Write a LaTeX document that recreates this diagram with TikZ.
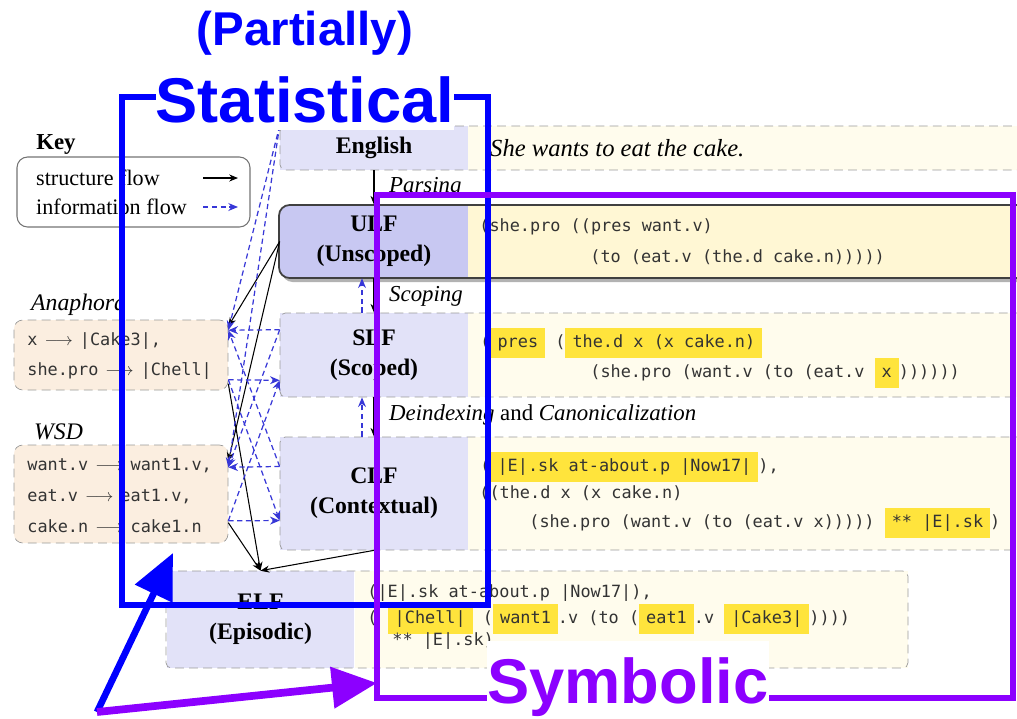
\documentclass[tikz,border=0pt]{standalone}
\usepackage{fontspec}
\setmainfont{Liberation Serif}
\newfontfamily\codefont{DejaVu Sans Mono}
\newfontfamily\annfont{Liberation Sans}
\usetikzlibrary{arrows.meta}

\definecolor{lav}{RGB}{226,226,248}
\definecolor{ulflav}{RGB}{200,200,242}
\definecolor{cream}{RGB}{255,252,237}
\definecolor{ulfcream}{RGB}{255,247,212}
\definecolor{peach}{RGB}{251,238,224}
\definecolor{hly}{RGB}{255,228,60}
\definecolor{infoblue}{RGB}{55,55,215}
\definecolor{annblue}{RGB}{0,0,255}
\definecolor{annpurple}{RGB}{140,0,255}

\newcommand{\hlbox}[1]{{\setlength{\fboxsep}{2.5pt}\colorbox{hly}{\hspace{1.5pt}\strut#1\hspace{1.5pt}}}}

\tikzset{
  lab/.style={fill=lav, font=\fontsize{13.5}{17}\selectfont\bfseries, align=center, minimum width=3.76cm, inner sep=0pt},
  side/.style={draw=black!40, dash pattern=on 5pt off 3pt, fill=peach, rounded corners=5pt, minimum width=4.28cm},
  codeln/.style={anchor=base west, font=\codefont\fontsize{9.6}{12}\selectfont, text=black!80, inner sep=0pt},
  stage/.style={anchor=west, font=\itshape\fontsize{13}{15}\selectfont},
  rowline/.style={draw=black!40, dash pattern=on 5pt off 3pt, rounded corners=3pt},
  flow/.style={-{Stealth[length=5pt,width=4pt]}, line width=0.6pt},
  info/.style={-{Stealth[length=5.5pt,width=4.5pt]}, infoblue, line width=0.7pt, dash pattern=on 3pt off 2pt},
  ann/.style={font=\annfont\bfseries\fontsize{36}{40}\selectfont, fill=white, inner sep=0pt},
}

\begin{document}
\begin{tikzpicture}[x=0.02cm,y=-0.02cm,>=stealth]
   \useasboundingbox (0,0) rectangle (1017,718);
   \clip (0,0) rectangle (1017,718);

   % 凡例
   \node [font=\bfseries\fontsize{13}{15}\selectfont] (key) at (56,144) {Key};
   \node [draw=black!55, line width=0.6pt, rounded corners=6pt, minimum width=4.66cm, minimum height=1.4cm] (keybox) at (133.5,192) {};
   \node [anchor=west, font=\fontsize{12.6}{15}\selectfont] (kst) at (30,178) {structure flow};
   \node [anchor=west, font=\fontsize{12.6}{15}\selectfont] (kin) at (30,207) {information flow};
   \coordinate (ks1) at (203,178); \coordinate (ks2) at (238,178);
   \coordinate (ki1) at (203,207); \coordinate (ki2) at (238,207);
   \draw [flow] (ks1) -- (ks2);
   \draw [info] (ki1) -- (ki2);

   % English
   \fill [cream] (466,126) rectangle (1030,170);
   \node [lab, minimum height=0.88cm] (eng) at (374,148) {English};
   \draw [rowline] (280,126) rectangle (1030,170);
   \node [anchor=west, font=\itshape\fontsize{14}{16}\selectfont] (sent) at (484,148) {She wants to eat the cake.};

   % ULF
   \fill [black!30, rounded corners=6pt] (282,209) rectangle (1030,282);
   \begin{scope}
     \clip [rounded corners=6pt] (279,205) rectangle (1030,278);
     \fill [ulfcream] (279,205) rectangle (1030,278);
     \node [lab, fill=ulflav, minimum height=1.46cm] (ulf) at (374,241.5) {ULF\\(Unscoped)};
   \end{scope}
   \draw [black!75, line width=1pt, rounded corners=6pt] (279,205) rectangle (1030,278);
   \node [codeln] (ulf1) at (479,231) {(she.pro ((pres want.v)};
   \node [codeln] (ulf2) at (590,262) {(to (eat.v (the.d cake.n)))))};

   % SLF
   \fill [cream] (468,313) rectangle (1030,397);
   \node [lab, minimum height=1.68cm] (slf) at (374,355) {SLF\\(Scoped)};
   \draw [rowline] (280,313) rectangle (1030,397);
   \node [codeln] (slf1) at (480,347) {(\hlbox{pres} (\hlbox{the.d x (x cake.n)}};
   \node [codeln] (slf2) at (590,377) {(she.pro (want.v (to (eat.v \hlbox{x}))))))};

   % CLF
   \fill [cream] (468,437) rectangle (1030,550);
   \node [lab, minimum height=2.26cm] (clf) at (374,493.5) {CLF\\(Contextual)};
   \draw [rowline] (280,437) rectangle (1030,550);
   \node [codeln] (clf1) at (480,471) {(\hlbox{|E|.sk at-about.p |Now17|}),};
   \node [codeln] (clf2) at (479,498) {((the.d x (x cake.n)};
   \node [codeln] (clf3) at (529,527) {(she.pro (want.v (to (eat.v x))))) \hlbox{** |E|.sk})};

   % ELF
   \fill [cream] (355,571) rectangle (908,668);
   \node [lab, minimum height=1.94cm] (elf) at (260.5,619.5) {ELF\\(Episodic)};
   \draw [rowline] (166,571) rectangle (908,668);
   \node [codeln] (elf1) at (367,597) {(|E|.sk at-about.p |Now17|),};
   \node [codeln] (elf2) at (367,623) {( \hlbox{|Chell|} (\hlbox{want1}.v (to (\hlbox{eat1}.v \hlbox{|Cake3|}))))};
   \node [codeln] (elf3) at (392,645) {** |E|.sk)};

   % Anaphora / WSD
   \node [anchor=west, font=\itshape\fontsize{13.5}{16}\selectfont] (anat) at (25,305) {Anaphora};
   \node [side, minimum height=1.4cm] (ana) at (121,355) {};
   \node [codeln] (ana1) at (27,345) {x\hspace{4pt}$\longrightarrow$\hspace{4pt}|Cake3|,};
   \node [codeln] (ana2) at (27,375) {she.pro\hspace{4pt}$\longrightarrow$\hspace{4pt}|Chell|};
   \node [anchor=west, font=\itshape\fontsize{13.5}{16}\selectfont] (wsdt) at (28,432) {WSD};
   \node [side, minimum height=1.96cm] (wsd) at (121,494) {};
   \node [codeln] (wsd1) at (27,470) {want.v\hspace{4pt}$\longrightarrow$\hspace{4pt}want1.v,};
   \node [codeln] (wsd2) at (27,501) {eat.v\hspace{4pt}$\longrightarrow$\hspace{4pt}eat1.v,};
   \node [codeln] (wsd3) at (27,532) {cake.n\hspace{4pt}$\longrightarrow$\hspace{4pt}cake1.n};

   % 段の間
   \draw [flow] (eng) -- (ulf);
   \draw [flow] (ulf) -- (slf);
   \draw [flow] (slf) -- (clf);
   \draw [info] ([xshift=-0.24cm]slf.north) -- ([xshift=-0.24cm]ulf.south);
   \draw [info] ([xshift=-0.24cm]clf.north) -- ([xshift=-0.24cm]slf.south);
   \node [stage] (parse) at (383,187) {Parsing};
   \node [stage] (scope) at (383,296) {Scoping};
   \node [stage] (deidx) at (383,415) {Deindexing \upshape and \itshape Canonicalization};

   % 構造の流れ
   \draw [flow] (ulf.west) -- (ana.15);
   \draw [flow] (ulf.west) -- (wsd.17);
   \draw [flow] (ana.-15) -- (elf.north);
   \draw [flow] (wsd.-15) -- (elf.north);
   \draw [flow] (clf.south) -- (elf.north);

   % 情報の流れ
   \draw [info] (eng.north west) -- (ana.13);
   \draw [info] (eng.north west) -- (wsd.14);
   \draw [info] (slf.165) -- (ana.13);
   \draw [info] (slf.165) -- (wsd.14);
   \draw [info] (clf.164) -- (ana.13);
   \draw [info] (clf.164) -- (wsd.14);
   \draw [info] (ana.-13) -- (slf.195);
   \draw [info] (ana.-13) -- (clf.196);
   \draw [info] (wsd.-14) -- (slf.195);
   \draw [info] (wsd.-14) -- (clf.196);

   % 注釈
   \draw [annblue, line width=3.4pt] (122,97) rectangle (488,605);
   \node [ann, text=annblue, anchor=base, text depth=0.16cm] (stat) at (305,122) {Statistical};
   \node [ann, text=annblue, font=\annfont\bfseries\fontsize{27}{30}\selectfont] (part) at (305,33) {(Partially)};
   \draw [annpurple, line width=3.4pt] (377,195) rectangle (1013,698);
   \node [ann, text=annpurple, anchor=base, text height=1.25cm, text depth=0.3cm] (symb) at (628,703) {Symbolic};

   \coordinate (src) at (97,712);
   \coordinate (btip) at (173,553);
   \coordinate (ptip) at (377,683);
   \draw [annblue, line width=3.8pt, -{Triangle[length=0.9cm,width=0.8cm]}] (src) -- (btip);
   \draw [annpurple, line width=4.4pt, -{Triangle[length=0.9cm,width=0.8cm]}] (src) -- (ptip);

\end{tikzpicture}
\end{document}
